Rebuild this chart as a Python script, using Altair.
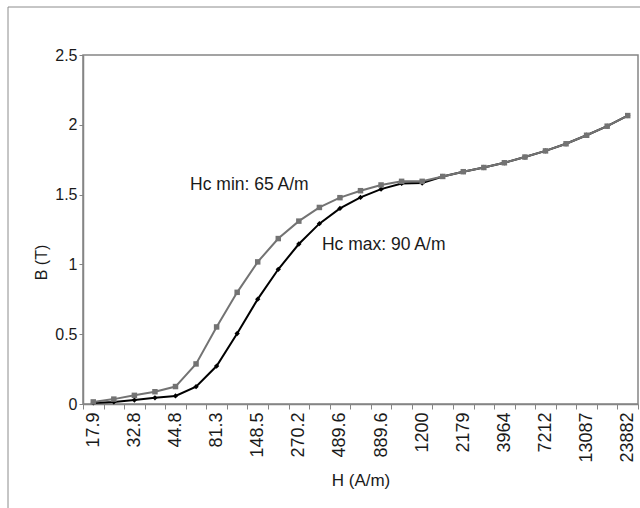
import json
import altair as alt
import pandas as pd

# ---- data ----
tick_labels = ["17.9", "32.8", "44.8", "81.3", "148.5", "270.2", "489.6",
               "889.6", "1200", "2179", "3964", "7212", "13087", "23882"]
point_index = list(range(27))
b_hc_min = [0.015, 0.035, 0.062, 0.088, 0.125, 0.287, 0.552, 0.800, 1.018,
            1.185, 1.310, 1.408, 1.478, 1.528, 1.569, 1.595, 1.595, 1.630,
            1.664, 1.694, 1.728, 1.769, 1.813, 1.864, 1.925, 1.990, 2.066]
b_hc_max = [0.008, 0.015, 0.028, 0.044, 0.058, 0.124, 0.272, 0.505, 0.751,
            0.965, 1.146, 1.292, 1.401, 1.480, 1.539, 1.580, 1.583, 1.630,
            1.664, 1.694, 1.728, 1.769, 1.813, 1.864, 1.925, 1.990, 2.066]
ann_text = ["Hc min: 65 A/m", "Hc max: 90 A/m"]
ann_x = [5, 12]
ann_y = [1.57, 1.14]

df_min = pd.DataFrame({"i": point_index, "B": b_hc_min})
df_max = pd.DataFrame({"i": point_index, "B": b_hc_max})
df_ann = pd.DataFrame({"i": ann_x, "B": ann_y, "t": ann_text})

GRAY = "#737373"
AXIS = "#858585"
FONT = "Liberation Sans"
TXT = "#1a1a1a"

label_expr = ("datum.value % 2 == 0 ? " + json.dumps(tick_labels)
              + "[datum.value / 2] : ''")

x_enc = alt.X(
    "i:O",
    scale=alt.Scale(type="band", paddingInner=0, paddingOuter=0),
    bandPosition=0.5,
    axis=alt.Axis(
        title="H (A/m)", tickBand="extent", labelExpr=label_expr,
        labelAngle=270, labelAlign="right", labelBaseline="middle",
        labelPadding=3, tickSize=5, labelFontSize=18,
        titleY=76, titleBaseline="middle", titleFontSize=17,
    ),
)
y_enc = alt.Y(
    "B:Q",
    scale=alt.Scale(domain=[0, 2.5], nice=False),
    axis=alt.Axis(
        title="B (T)", values=[0, 0.5, 1, 1.5, 2, 2.5], format="~g",
        grid=False, tickSize=4, labelPadding=2, labelFontSize=16,
        titleX=-42, titleY=207, titleAngle=270, titleBaseline="middle",
        titleFontSize=16,
    ),
)

line_max = alt.Chart(df_max).mark_line(
    color="black", strokeWidth=2,
    point=alt.OverlayMarkDef(shape="diamond", size=28, filled=True, color="black"),
).encode(x=x_enc, y=y_enc)

line_min = alt.Chart(df_min).mark_line(
    color=GRAY, strokeWidth=2,
    point=alt.OverlayMarkDef(shape="square", size=30, filled=True, color=GRAY),
).encode(x=x_enc, y=y_enc)

ann1 = alt.Chart(df_ann.iloc[[0]]).mark_text(
    align="left", baseline="middle", font=FONT, fontSize=17.5, color=TXT, dx=-6,
).encode(x=x_enc, y=y_enc, text="t:N")
ann2 = alt.Chart(df_ann.iloc[[1]]).mark_text(
    align="left", baseline="middle", font=FONT, fontSize=17.5, color=TXT, dx=-18,
).encode(x=x_enc, y=y_enc, text="t:N")

frame = alt.Chart(pd.DataFrame({"a": [0]})).mark_rect(
    fill=None, stroke="#8c8c8c", strokeWidth=1, clip=False,
).encode(x=alt.value(-75), y=alt.value(-48), x2=alt.value(600), y2=alt.value(500))

chart = alt.layer(frame, line_max, line_min, ann1, ann2).properties(
    width=555, height=349,
    autosize=alt.AutoSizeParams(type="none"),
    padding={"left": 83, "top": 55, "right": 2, "bottom": 104},
    background="white",
).configure_view(
    stroke=AXIS, strokeWidth=1.5,
).configure_axis(
    domainColor=AXIS, domainWidth=1.5, tickColor=AXIS, tickWidth=1,
    labelFont=FONT, labelColor=TXT,
    titleFont=FONT, titleColor=TXT, titleFontWeight="normal",
)

chart.save("out.html", embed_options={"renderer": "svg", "actions": False})
